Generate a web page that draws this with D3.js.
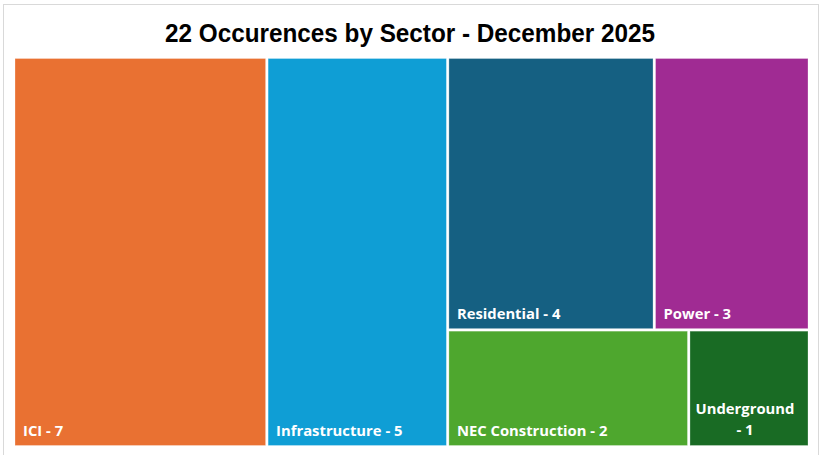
<!DOCTYPE html>
<html><head><meta charset="utf-8">
<script src="https://cdn.jsdelivr.net/npm/d3@7"></script>
<style>
html,body{margin:0;padding:0;background:#fff;}
svg{display:block;}
</style></head>
<body>
<svg id="chart" width="823" height="455"></svg>
<script>
const title = "22 Occurences by Sector - December 2025";
const categories = ["ICI", "Infrastructure", "Residential", "Power", "NEC Construction", "Underground"];
const values = [7, 5, 4, 3, 2, 1];
const colors = ["#E97132", "#0F9ED5", "#156082", "#A02B93", "#4EA72E", "#196B24"];
// Excel-style grouping of tiles: columns, then rows inside the last column
const groups = [[0], [1], [[2, 3], [4, 5]]];

const svg = d3.select("#chart");

// outer frame
svg.append("rect").attr("x", 3.5).attr("y", 4.5).attr("width", 815).attr("height", 460)
  .attr("fill", "#fff").attr("stroke", "#d9d9d9").attr("stroke-width", 1);

svg.append("text").attr("x", 410).attr("y", 41.5).attr("text-anchor", "middle")
  .attr("font-family", "'Liberation Sans', Arial, sans-serif")
  .attr("font-weight", "bold").attr("font-size", 25).attr("fill", "#000")
  .attr("textLength", 490).attr("lengthAdjust", "spacingAndGlyphs")
  .text(title);

function build(g) {
  if (typeof g === "number") return {name: categories[g], value: values[g], color: colors[g], idx: g};
  if (g.length === 1 && typeof g[0] === "number") return build(g[0]);
  return {children: g.map(build)};
}
const data = {children: groups.map(build)};

const root = d3.hierarchy(data).sum(d => d.value || 0);
d3.treemap()
  .tile(d3.treemapSliceDice)
  .size([793, 387])
  .paddingInner(2.5)
  .round(false)(root);

const plot = svg.append("g").attr("transform", "translate(15,58.5)");
const leaves = plot.selectAll("g.leaf").data(root.leaves()).join("g").attr("class", "leaf");

leaves.append("rect")
  .attr("x", d => d.x0).attr("y", d => d.y0)
  .attr("width", d => d.x1 - d.x0).attr("height", d => d.y1 - d.y0)
  .attr("fill", d => d.data.color)
  .attr("stroke", "rgba(255,255,255,0.35)").attr("stroke-width", 0.8);

const fontFam = "'Open Sans', Lato, sans-serif";
leaves.each(function(d) {
  const g = d3.select(this);
  const label = d.data.name + " - " + d.data.value;
  const t = g.append("text")
    .attr("font-family", fontFam).attr("font-weight", "bold").attr("font-size", 14.8)
    .attr("fill", "#fff")
    .attr("x", d.x0 + 8).attr("y", d.y1 - 10)
    .text(label);
  const w = t.node().getComputedTextLength();
  if (w > d.x1 - d.x0 - 14) {
    t.text(null).attr("text-anchor", "middle");
    const cx = (d.x0 + d.x1) / 2 - 4;
    const lines = [d.data.name, "- " + d.data.value];
    lines.forEach((ln, i) => {
      t.append("tspan").attr("x", cx).attr("y", d.y1 - 11 - (lines.length - 1 - i) * 21).text(ln);
    });
  }
});
</script>
</body></html>
